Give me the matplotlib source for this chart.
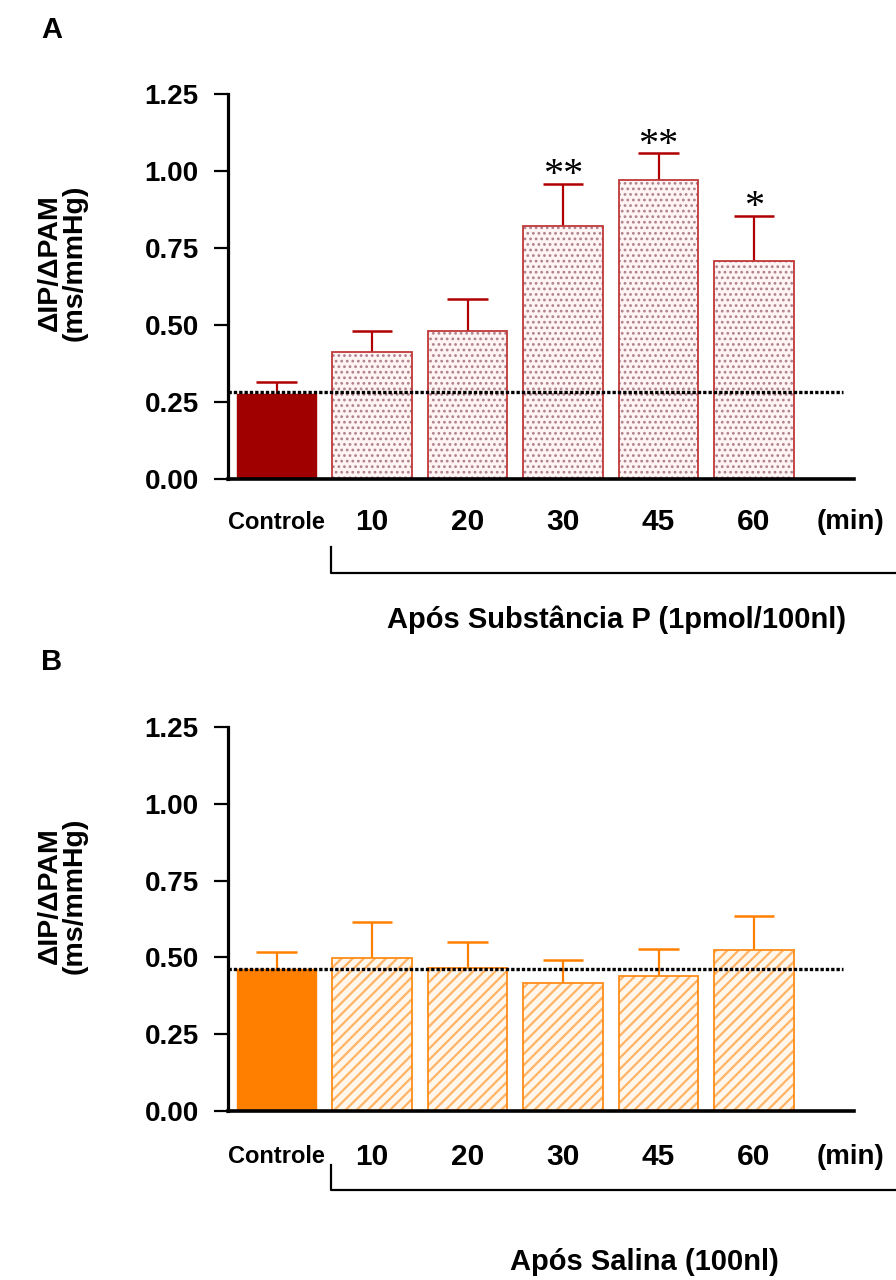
import matplotlib
matplotlib.use("Agg")
import matplotlib.pyplot as plt
import numpy as np

plt.rcParams['font.family'] = ['Liberation Sans', 'DejaVu Sans']
plt.rcParams['font.weight'] = 'bold'

# dados
categorias = ['Controle', '10', '20', '30', '45', '60']
sp_media = [0.277, 0.412, 0.480, 0.821, 0.971, 0.708]
sp_epm = [0.039, 0.068, 0.104, 0.137, 0.087, 0.146]
sp_sig = ['', '', '', '**', '**', '*']
sp_ref = 0.283

sal_media = [0.462, 0.499, 0.465, 0.416, 0.439, 0.524]
sal_epm = [0.056, 0.116, 0.085, 0.074, 0.088, 0.110]
sal_sig = ['', '', '', '', '', '']
sal_ref = 0.462

yticks = [0.0, 0.25, 0.5, 0.75, 1.0, 1.25]


def painel(ax, media, epm, sig, ref, cor_ctrl, cor_borda, cor_hatch, cor_fundo,
           hatch, hatch_lw, cor_erro, lab_off):
    x = np.arange(len(categorias))
    w = 0.83
    # controle (cheio)
    ax.bar(x[0], media[0], w, color=cor_ctrl, edgecolor=cor_ctrl, linewidth=1, zorder=2)
    # demais com padrao
    with plt.rc_context({'hatch.linewidth': hatch_lw}):
        ax.bar(x[1:], media[1:], w, color=cor_fundo, edgecolor=cor_hatch,
               hatch=hatch, linewidth=0, zorder=2)
    ax.bar(x[1:], media[1:], w, fill=False, edgecolor=cor_borda, linewidth=1.3, zorder=2.5)

    # erro so para cima
    topo = np.array(media) + np.array(epm)
    ax.vlines(x, media, topo, color=cor_erro, linewidth=1.6, zorder=1.5)
    ax.hlines(topo, x - 0.21, x + 0.21, color=cor_erro, linewidth=1.8, zorder=1.5)

    for xi, t, s in zip(x, topo, sig):
        if s:
            ax.annotate(s, (xi, t), xytext=(0, -1), textcoords='offset points',
                        ha='center', va='baseline', fontsize=29,
                        family='Liberation Serif', fontweight='normal')

    ax.axhline(ref, xmin=0, xmax=0.982, color='black', linewidth=2.4,
               linestyle=(0, (1, 0.6)), zorder=4)

    ax.set_xlim(-0.508, 6.047)
    ax.set_ylim(0, 1.25)
    ax.set_yticks(yticks)
    ax.set_yticklabels([f'{v:.2f}' for v in yticks], fontsize=20, fontweight='bold')
    ax.tick_params(axis='y', direction='out', length=10, width=1.6, pad=11)
    ax.set_xticks([])
    for s in ['top', 'right']:
        ax.spines[s].set_visible(False)
    ax.spines['left'].set_linewidth(2.3)
    ax.spines['bottom'].set_linewidth(2.6)

    for xi, lab in zip(x, categorias):
        fs = 17 if lab == 'Controle' else 21.5
        ax.annotate(lab, (xi, 0), xytext=(0, -lab_off), textcoords='offset points',
                    ha='center', va='center', fontsize=fs, fontweight='bold',
                    annotation_clip=False)
    ax.annotate('(min)', (0.995, 0), xycoords='axes fraction', xytext=(0, -lab_off),
                textcoords='offset points', ha='center', va='center', fontsize=20,
                fontweight='bold', annotation_clip=False)
    return ax


fig = plt.figure(figsize=(8.96, 12.8), dpi=100)

axA = fig.add_axes([228 / 896, 1 - 479 / 1280, 626 / 896, 385 / 1280])
painel(axA, sp_media, sp_epm, sp_sig, sp_ref, '#A00000', '#C03838', '#B08090',
       '#FEF4F4', '...', 1.2, '#B00000', 31)
axA.plot([0.1645, 0.1645, 1.1], [-0.177, -0.244, -0.244], transform=axA.transAxes,
         color='black', linewidth=1.6, clip_on=False)
axA.text(0.621, -0.366, 'Após Substância P (1pmol/100nl)', transform=axA.transAxes,
         ha='center', va='center', fontsize=21, fontweight='bold')

axB = fig.add_axes([228 / 896, 1 - 1111 / 1280, 626 / 896, 384 / 1280])
painel(axB, sal_media, sal_epm, sal_sig, sal_ref, '#FF8000', '#FF8C1A', '#FFB466',
       '#FFF6EC', '///', 1.6, '#FF8000', 33)
axB.plot([0.1645, 0.1645, 1.1], [-0.1406, -0.2057, -0.2057], transform=axB.transAxes,
         color='black', linewidth=1.6, clip_on=False)
axB.text(0.665, -0.393, 'Após Salina (100nl)', transform=axB.transAxes,
         ha='center', va='center', fontsize=21, fontweight='bold')

ylab = 'ΔIP/ΔPAM\n(ms/mmHg)'
fig.text(62 / 896, 1 - 263 / 1280, ylab, rotation=90, ha='center', va='center',
         fontsize=20.5, fontweight='bold', multialignment='center', linespacing=0.95)
fig.text(62 / 896, 1 - 896 / 1280, ylab, rotation=90, ha='center', va='center',
         fontsize=20.5, fontweight='bold', multialignment='center', linespacing=0.95)

fig.text(52 / 896, 1 - 30 / 1280, 'A', ha='center', va='center', fontsize=21, fontweight='bold')
fig.text(52 / 896, 1 - 662 / 1280, 'B', ha='center', va='center', fontsize=21, fontweight='bold')

fig.savefig('out.png', dpi=100)
